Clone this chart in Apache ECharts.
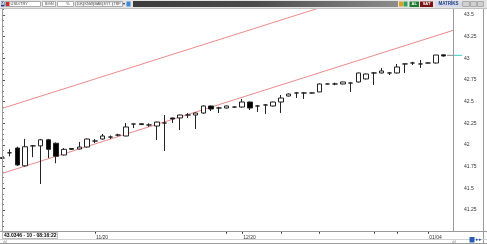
<!DOCTYPE html>
<html><head><meta charset="utf-8">
<script src="https://cdn.jsdelivr.net/npm/echarts@6/dist/echarts.min.js"></script>
<style>html,body{margin:0;padding:0;background:#fff;overflow:hidden}#c{width:487px;height:244px}</style>
</head><body><div id="c"></div>
<script>
// candle positions (bar index)
const candleIdx = [0,1,2,3,4,5,6,7,8,9,10,11,12,13,14,15,16,17,18,19,20,21,22,23,24,25,26,27,28,29,30,31,32,33,34,35,36,37,38,39,40,41,42,43,44,45,46,47,48,49,50,51,52,53,54,55,56,57];
const opens  = [41.85,41.91,41.965,41.76,41.99,41.99,42.06,42.02,41.885,41.96,41.954,41.977,42.046,42.069,42.092,42.115,42.104,42.242,42.245,42.231,42.219,42.254,42.312,42.312,42.346,42.346,42.369,42.45,42.427,42.427,42.438,42.438,42.496,42.45,42.462,42.45,42.496,42.565,42.60,42.60,42.60,42.612,42.704,42.704,42.704,42.715,42.727,42.762,42.831,42.831,42.831,42.831,42.935,42.946,42.935,42.946,42.946,43.04];
const closes = [41.85,41.91,41.77,41.98,41.99,42.06,41.95,41.87,41.95,41.95,41.977,42.069,42.046,42.104,42.092,42.115,42.208,42.242,42.236,42.231,42.265,42.254,42.30,42.346,42.346,42.369,42.45,42.415,42.427,42.45,42.438,42.496,42.427,42.45,42.462,42.496,42.542,42.588,42.60,42.60,42.60,42.704,42.704,42.704,42.727,42.715,42.831,42.819,42.831,42.854,42.831,42.90,42.935,42.946,42.935,42.946,43.038,43.027];
const lows   = [41.84,41.87,41.76,41.75,41.86,41.55,41.85,41.79,41.88,41.945,41.95,41.97,42.023,42.06,42.07,42.10,42.10,42.196,42.23,42.21,42.058,41.931,42.254,42.173,42.312,42.185,42.36,42.392,42.369,42.42,42.43,42.43,42.404,42.381,42.358,42.445,42.369,42.56,42.542,42.531,42.595,42.61,42.70,42.69,42.70,42.612,42.72,42.755,42.692,42.825,42.808,42.825,42.831,42.923,42.888,42.94,42.94,43.02];
const highs  = [41.86,41.95,41.98,42.07,42.00,42.07,42.07,42.03,41.965,41.965,42.035,42.075,42.069,42.127,42.11,42.13,42.254,42.245,42.25,42.25,42.27,42.346,42.315,42.35,42.369,42.375,42.455,42.455,42.44,42.455,42.445,42.531,42.50,42.46,42.47,42.50,42.577,42.595,42.61,42.61,42.605,42.71,42.71,42.72,42.73,42.72,42.835,42.825,42.84,42.888,42.842,42.935,42.94,42.96,42.981,42.95,43.04,43.045];
// channel lines (bar index, price)
const channelIdx = [0, 58.2];
const lowerLine = [41.672, 43.322];
const upperLine = [42.422, 44.07];
// axis ticks / labels
const xTickIdx = [12, 29, 31, 36, 41, 48, 51, 55];
const xLabelIdx = [12, 31, 55];
const xLabels = ['11/20', '12/20', '01/04'];
const lastPrice = 43.0346;
const infoText = '43.0346 - 10 - 08:16:22';

const candleData = candleIdx.map((x, i) => [x, opens[i], closes[i], lows[i], highs[i]]);

const chart = echarts.init(document.getElementById('c'), null, {renderer: 'canvas'});
const F = 'Liberation Sans, Arial, sans-serif';

function box(x, y, w, h, fill, stroke) {
  return {type: 'rect', shape: {x, y, width: w, height: h}, style: {fill, stroke: stroke || null, lineWidth: 1}, z: 100};
}
function txt(x, y, t, color, size, weight, align) {
  return {type: 'text', x, y, style: {text: t, fill: color, font: (weight || 'normal') + ' ' + size + 'px ' + F, textAlign: align || 'left', textVerticalAlign: 'middle'}, z: 101};
}
function ln(x1, y1, x2, y2, c) {
  return {type: 'line', shape: {x1, y1, x2, y2}, style: {stroke: c, lineWidth: 1}, z: 90};
}

const graphics = [
  // toolbar
  box(0, 0, 487, 8.5, '#e4e4e4'),
  box(1, 1.5, 3.5, 5, '#263a8a'), txt(2.75, 4, 'M', '#fff', 4, 'bold', 'center'),
  box(5.5, 1.5, 35, 5, '#fff', '#aaa'),
  box(6, 2, 3.5, 4, '#c83030'),
  txt(10.5, 4, 'USD/TRY', '#444', 4),
  box(42.5, 1.5, 13, 5, '#fff', '#aaa'), txt(45, 4, 'BGN', '#444', 4),
  box(57.5, 1.5, 16, 5, '#fff', '#aaa'), txt(66, 4, '%', '#444', 4),
  box(75.5, 1.5, 8, 5, '#f4f4f4', '#aaa'), txt(76.5, 4, '10K', '#444', 3.6),
  box(83.5, 1.5, 10, 5, '#f4f4f4', '#aaa'), txt(84.5, 4, 'KNW', '#444', 3.6),
  box(93.5, 1.5, 9, 5, '#f4f4f4', '#aaa'), txt(94.5, 4, 'BAB', '#444', 3.6),
  box(102.5, 1.5, 10, 5, '#f4f4f4', '#aaa'), txt(103.5, 4, 'SYT', '#444', 3.6),
  box(112.5, 1.5, 10, 5, '#f4f4f4', '#aaa'), txt(113.5, 4, 'TRP', '#444', 3.6),
  txt(123, 4, '▾', '#222', 4),
  box(126.5, 1.5, 4, 5, '#3a8ad8'),
  {type: 'rect', shape: {x: 133, y: 1, width: 265, height: 6}, z: 100,
   style: {fill: new echarts.graphic.LinearGradient(0, 0, 1, 0, [{offset: 0, color: '#3c3c3c'}, {offset: 0.45, color: '#4a4a4a'}, {offset: 1, color: '#8c8c8c'}])}},
  box(399, 1.5, 4, 5, '#e0a020'), box(403.5, 1.5, 4, 5, '#30a060'),
  box(409.5, 1.5, 9.5, 5.5, '#1e7a2e'), txt(414.2, 4.2, 'AL', '#fff', 4, 'bold', 'center'),
  box(420, 1.5, 13, 5.5, '#7a1414'), txt(426.5, 4.2, 'SAT', '#fff', 4, 'bold', 'center'),
  box(435, 1.5, 27, 5.5, '#d4dae8'), txt(448.5, 4.2, 'MATRİKS', '#1f3a8a', 4.5, 'bold', 'center'),
  box(462.5, 1.5, 7, 5, '#d0d0d0', '#aaa'), box(470.5, 1.5, 6, 5, '#d0d0d0', '#aaa'), box(477.5, 1.5, 6, 5, '#d0d0d0', '#aaa'),
  // frame lines
  ln(0, 8.5, 487, 8.5, '#9a9a9a'),
  ln(2.5, 8.5, 2.5, 231.5, '#9a9a9a'),
  ln(453.5, 8.5, 453.5, 231.5, '#9a9a9a'),
  ln(483.5, 8.5, 483.5, 243, '#9a9a9a'),
  ln(0, 231.5, 487, 231.5, '#9a9a9a'),
  ln(0, 239.5, 487, 239.5, '#d0d0d0'),
  ln(0, 243.5, 487, 243.5, '#9a9a9a'),
  // info box
  box(2.5, 232.5, 55, 6, '#fff', '#bbb'),
  txt(4, 235.6, infoText, '#000', 5, 'bold'),
  txt(3, 241.5, 'ılıl', '#888', 4),
  txt(452, 241.5, 'ılıl', '#888', 4),
  box(469.5, 237, 5, 5.5, '#2a5cb0'), txt(475.5, 240, '▸▸', '#2a5cb0', 4.5)
];

chart.setOption({
  animation: false,
  backgroundColor: '#fff',
  grid: {left: 2, right: 34, top: 6.3, height: 225.4, containLabel: false, outerBoundsMode: 'none'},
  xAxis: {
    type: 'value', min: 0, max: 58.2,
    axisLine: {show: false},
    splitLine: {show: false},
    axisTick: {show: true, customValues: xTickIdx, length: 2, lineStyle: {color: '#333'}},
    axisLabel: {show: true, customValues: xLabelIdx, formatter: v => xLabels[xLabelIdx.indexOf(v)] || '',
      fontSize: 5, color: '#333', fontFamily: F, align: 'left', margin: 3, padding: [0, 0, 0, 1]}
  },
  yAxis: {
    type: 'value', position: 'right', offset: 9, min: 41, max: 43.6, interval: 0.25,
    axisLine: {show: true, lineStyle: {color: '#9a9a9a'}},
    splitLine: {show: false},
    axisTick: {show: true, length: 3, lineStyle: {color: '#555'}},
    minorTick: {show: true, splitNumber: 4, length: 2, lineStyle: {color: '#777'}},
    axisLabel: {fontSize: 5, color: '#333', fontFamily: F, margin: 2,
      showMinLabel: false, showMaxLabel: false,
      formatter: v => (v > 41.1 && Math.abs(v * 4 - Math.round(v * 4)) < 1e-6) ? String(+v.toFixed(2)) : ''}
  },
  series: [
    {type: 'line', data: channelIdx.map((x, i) => [x, upperLine[i]]), symbol: 'none', clip: true,
     lineStyle: {color: '#ee8a8a', width: 1}, silent: true, z: 1},
    {type: 'line', data: channelIdx.map((x, i) => [x, lowerLine[i]]), symbol: 'none', clip: true,
     lineStyle: {color: '#ee8a8a', width: 1}, silent: true, z: 1},
    {type: 'candlestick', data: candleData, encode: {x: 0, y: [1, 2, 3, 4]}, barWidth: 5, clip: true, z: 3,
     itemStyle: {color: '#fff', color0: '#000', borderColor: '#222', borderColor0: '#222', borderColorDoji: '#222', borderWidth: 1}}
  ],
  graphic: graphics
});

const py = chart.convertToPixel({yAxisIndex: 0}, lastPrice);
chart.setOption({graphic: graphics.concat([
  {type: 'line', shape: {x1: 454, y1: py, x2: 462, y2: py}, style: {stroke: '#3cc8c8', lineWidth: 1}, z: 95},
  {type: 'line', shape: {x1: 447, y1: py, x2: 453, y2: py}, style: {stroke: '#888', lineWidth: 1}, z: 95}
])});
</script></body></html>
